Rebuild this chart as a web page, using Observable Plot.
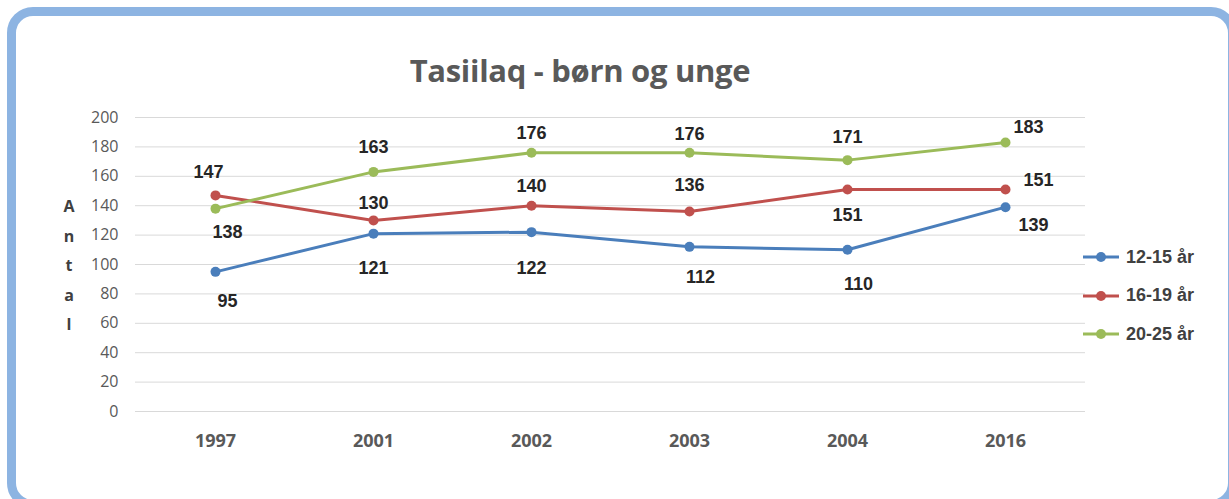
<!DOCTYPE html>
<html>
<head>
<meta charset="utf-8">
<script src="https://cdn.jsdelivr.net/npm/d3@7"></script>
<script src="https://cdn.jsdelivr.net/npm/@observablehq/plot@0.6"></script>
<style>
  html, body { margin: 0; padding: 0; background: #fff; }
  #wrap { position: relative; width: 1229px; height: 499px; overflow: hidden; font-family: "Open Sans", sans-serif; }
  #frame { position: absolute; left: 7px; top: 7px; width: 1212px; height: 484px; border: 9px solid #8db4e2; border-radius: 26px; box-sizing: content-box; background: #fff; }
  #title { position: absolute; left: 0; width: 1160px; top: 49px; text-align: center; font-family: "Open Sans", sans-serif; font-weight: 700; font-size: 31px; color: #595959; letter-spacing: -0.3px; }
  #ylab { position: absolute; left: 59px; top: 192px; width: 20px; text-align: center; font-family: "Open Sans", sans-serif; font-weight: 700; font-size: 16px; color: #404040; line-height: 29.5px; }
  #chart { position: absolute; left: 0; top: 0; }
  #legend { position: absolute; left: 1083px; top: 238px; font-family: "Liberation Sans Narrow", "Arial Narrow", sans-serif; font-weight: 700; font-size: 18px; color: #404040; }
  .li { display: flex; align-items: center; height: 38.5px; }
  .li svg { margin-right: 7px; }
</style>
</head>
<body>
<div id="wrap">
  <div id="frame"></div>
  <div id="title">Tasiilaq - børn og unge</div>
  <div id="ylab"></div>
  <div id="chart"></div>
  <div id="legend"></div>
</div>
<script>
const years = ["1997", "2001", "2002", "2003", "2004", "2016"];
const seriesNames = ["12-15 år", "16-19 år", "20-25 år"];
const s1215 = [95, 121, 122, 112, 110, 139];
const s1619 = [147, 130, 140, 136, 151, 151];
const s2025 = [138, 163, 176, 176, 171, 183];
const yTicks = [0, 20, 40, 60, 80, 100, 120, 140, 160, 180, 200];
const yTitle = "Antal";

const colors = ["#4a7ebb", "#c0504d", "#9bbb59"];
const seriesValues = [s1215, s1619, s2025];

// label placement (dx, dy, anchor) per series/point
const place = [
  [[12, 29, "middle"], [0, 35, "middle"], [0, 36, "middle"], [11, 30, "middle"], [11, 34, "middle"], [13, 18, "start"]],
  [[-7, -23, "middle"], [0, -17, "middle"], [0, -19, "middle"], [0, -26, "middle"], [0, 26, "middle"], [18, -9, "start"]],
  [[12, 24, "middle"], [0, -25, "middle"], [0, -20, "middle"], [0, -19, "middle"], [0, -23, "middle"], [8, -15, "start"]]
];

const data = [];
seriesNames.forEach((name, si) => {
  years.forEach((yr, i) => {
    data.push({series: name, year: yr, value: seriesValues[si][i], si, i});
  });
});

const labelMarks = [];
data.forEach(d => {
  const [dx, dy, anchor] = place[d.si][d.i];
  labelMarks.push(Plot.text([d], {
    x: "year", y: "value", text: d => String(d.value),
    dx, dy, textAnchor: anchor,
    fontFamily: "Liberation Sans Narrow, Arial Narrow, sans-serif",
    fontWeight: 700, fontSize: 18, fill: "#262626"
  }));
});

const chart = Plot.plot({
  width: 1229,
  height: 499,
  marginTop: 117,
  marginBottom: 88,
  marginLeft: 135,
  marginRight: 144,
  style: {background: "transparent", overflow: "visible"},
  x: {type: "point", domain: years, padding: 0.5, label: null},
  y: {domain: [0, 200], ticks: yTicks, label: null},
  color: {domain: seriesNames, range: colors},
  marks: [
    Plot.gridY(yTicks, {stroke: "#d9d9d9", strokeOpacity: 1, strokeWidth: 1}),
    Plot.axisY({ticks: yTicks, tickSize: 0, tickPadding: 17, label: null,
      fontSize: 16, fill: "#595959", fontFamily: "Open Sans, sans-serif"}),
    Plot.axisX({tickSize: 0, tickPadding: 23, label: null,
      fontSize: 18, fontWeight: 700, fill: "#595959", fontFamily: "Open Sans, sans-serif"}),
    Plot.line(data, {x: "year", y: "value", z: "series", stroke: "series", strokeWidth: 3}),
    Plot.dot(data, {x: "year", y: "value", fill: "series", r: 5}),
    ...labelMarks
  ]
});
document.getElementById("chart").appendChild(chart);

document.getElementById("ylab").innerHTML = yTitle.split("").map(c => `<div>${c}</div>`).join("");

const leg = document.getElementById("legend");
seriesNames.forEach((n, i) => {
  const row = document.createElement("div");
  row.className = "li";
  row.innerHTML = `<svg width="36" height="12"><line x1="0" y1="6" x2="36" y2="6" stroke="${colors[i]}" stroke-width="3"/><circle cx="18" cy="6" r="5" fill="${colors[i]}"/></svg><span>${n}</span>`;
  leg.appendChild(row);
});
</script>
</body>
</html>
